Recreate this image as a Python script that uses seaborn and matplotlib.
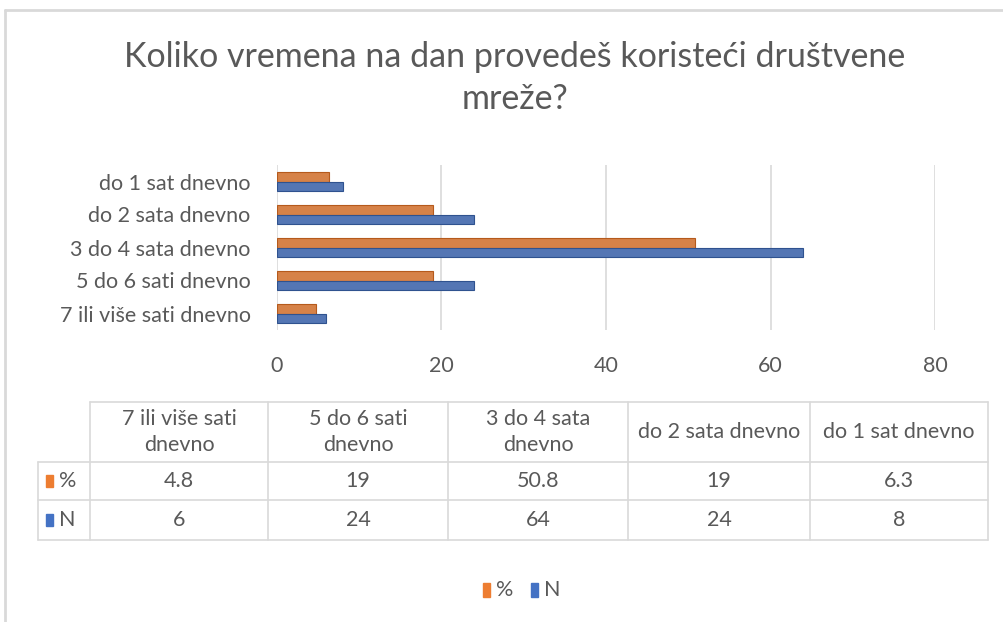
import textwrap

import numpy as np
import pandas as pd

import matplotlib.pyplot as plt
from matplotlib.lines import Line2D
from matplotlib.patches import Rectangle

import seaborn as sns

# data (table order, left to right)
categories = [
    "7 ili više sati dnevno",
    "5 do 6 sati dnevno",
    "3 do 4 sata dnevno",
    "do 2 sata dnevno",
    "do 1 sat dnevno",
]
pct_values = [4.8, 19, 50.8, 19, 6.3]
n_values = [6, 24, 64, 24, 8]
series_names = ["%", "N"]
x_ticks = [0, 20, 40, 60, 80]

title = "Koliko vremena na dan provedeš koristeći društvene\nmreže?"

colors = {"%": "#ED7D31", "N": "#4472C4"}
edge_colors = {"%": "#B55A1C", "N": "#2F528F"}
text_grey = "#595959"
line_grey = "#D9D9D9"
fs = 15.5

sns.set_theme(style="white")
plt.rcParams["font.family"] = ["Lato", "DejaVu Sans"]

df = pd.DataFrame(
    {
        "kategorija": categories * 2,
        "serija": ["%"] * len(categories) + ["N"] * len(categories),
        "vrijednost": pct_values + n_values,
    }
)

fig = plt.figure(figsize=(10.04, 6.22), dpi=100)

W, H = 1004, 622


def fx(px):
    return px / W


def fy(py):
    return 1 - py / H


# bar chart area
ax = fig.add_axes([fx(277), fy(330), fx(935) - fx(277), fy(165) - fy(330)])
sns.barplot(
    data=df,
    x="vrijednost",
    y="kategorija",
    hue="serija",
    order=categories[::-1],
    hue_order=series_names,
    palette=colors,
    orient="h",
    width=0.58,
    ax=ax,
    legend=False,
)
for bars, name in zip(ax.containers, series_names):
    for b in bars:
        b.set_edgecolor(edge_colors[name])
        b.set_linewidth(0.8)

ax.set_xlim(0, 80)
ax.set_xticks(x_ticks)
ax.set_xlabel("")
ax.set_ylabel("")
ax.tick_params(axis="x", length=0, pad=19, labelsize=fs, labelcolor=text_grey)
ax.tick_params(axis="y", length=0, pad=19, labelsize=fs, labelcolor=text_grey)
for s in ax.spines.values():
    s.set_visible(False)
for t in x_ticks:
    ax.axvline(t, color=line_grey, lw=1.2, zorder=0)

fig.text(0.513, fy(78), title, ha="center", va="center", fontsize=24.5,
         color=text_grey, linespacing=1.35)

# overlay in pixel coordinates for table, legend and frame
ov = fig.add_axes([0, 0, 1, 1], facecolor="none")
ov.set_xlim(0, W)
ov.set_ylim(H, 0)
ov.axis("off")

# outer chart frame (cut off at right and bottom)
ov.add_line(Line2D([5, 5], [10, H], color=line_grey, lw=2))
ov.add_line(Line2D([5, W], [10, 10], color=line_grey, lw=2))

# data table
col_edges = [38, 90, 268, 448, 628, 810, 988]
row_edges = [402, 462, 500, 540]
tcol = "#D9D9D9"
for i, x in enumerate(col_edges):
    top = row_edges[1] if i == 0 else row_edges[0]
    ov.add_line(Line2D([x, x], [top, row_edges[-1]], color=tcol, lw=1.2))
for j, y in enumerate(row_edges):
    left = col_edges[1] if j == 0 else col_edges[0]
    ov.add_line(Line2D([left, col_edges[-1]], [y, y], color=tcol, lw=1.2))

for k, cat in enumerate(categories):
    cx = (col_edges[k + 1] + col_edges[k + 2]) / 2
    ov.text(cx, (row_edges[0] + row_edges[1]) / 2, textwrap.fill(cat, 16),
            ha="center", va="center", fontsize=fs, color=text_grey,
            linespacing=1.4)
    ov.text(cx, (row_edges[1] + row_edges[2]) / 2, f"{pct_values[k]:g}",
            ha="center", va="center", fontsize=fs, color=text_grey)
    ov.text(cx, (row_edges[2] + row_edges[3]) / 2, f"{n_values[k]:g}",
            ha="center", va="center", fontsize=fs, color=text_grey)

for r, name in enumerate(series_names):
    cy = (row_edges[r + 1] + row_edges[r + 2]) / 2
    ov.add_patch(Rectangle((46, cy - 6), 7, 12, color=colors[name]))
    ov.text(59, cy, name, ha="left", va="center", fontsize=fs, color=text_grey)

# legend
leg_y = 590
for name, x0 in zip(series_names, [483, 531]):
    ov.add_patch(Rectangle((x0, leg_y - 7), 7, 14, color=colors[name]))
    ov.text(x0 + 13, leg_y, name, ha="left", va="center", fontsize=fs,
            color=text_grey)

fig.savefig("out.png", dpi=100, facecolor="white")
